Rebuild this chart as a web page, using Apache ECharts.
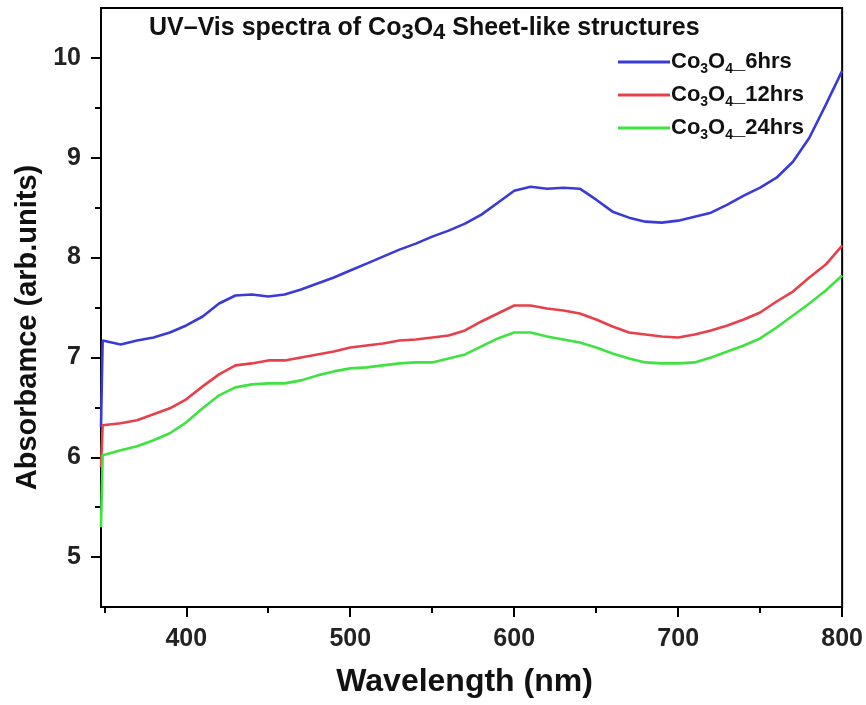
<!DOCTYPE html>
<html>
<head>
<meta charset="utf-8">
<script src="https://cdn.jsdelivr.net/npm/echarts@6/dist/echarts.min.js"></script>
<style>
  html, body { margin: 0; padding: 0; background: #fff; }
  #chart { width: 866px; height: 705px; }
</style>
</head>
<body>
<div id="chart"></div>
<script>
// Wavelength grid (nm) and absorbance of the three Co3O4 samples
const wavelength = [348, 349, 360, 370, 380, 390, 400, 410, 420, 430, 440, 450, 460, 470, 480, 490,
  500, 510, 520, 530, 540, 550, 560, 570, 580, 590, 600, 610, 620, 630, 640, 650, 660, 670, 680, 690,
  700, 710, 720, 730, 740, 750, 760, 770, 780, 790, 800];

const abs6hrs = [6.3, 7.17, 7.13, 7.17, 7.20, 7.25, 7.32, 7.41, 7.54, 7.62, 7.63, 7.61, 7.63, 7.68, 7.74, 7.80,
  7.87, 7.94, 8.01, 8.08, 8.14, 8.21, 8.27, 8.34, 8.43, 8.55, 8.67, 8.71, 8.69, 8.70, 8.69, 8.58, 8.46, 8.40, 8.36, 8.35,
  8.37, 8.41, 8.45, 8.53, 8.62, 8.70, 8.80, 8.96, 9.20, 9.53, 9.87];

const abs12hrs = [5.9, 6.32, 6.34, 6.37, 6.43, 6.49, 6.58, 6.71, 6.83, 6.92, 6.94, 6.97, 6.97, 7.00, 7.03, 7.06,
  7.10, 7.12, 7.14, 7.17, 7.18, 7.20, 7.22, 7.27, 7.36, 7.44, 7.52, 7.52, 7.49, 7.47, 7.44, 7.38, 7.31, 7.25, 7.23, 7.21,
  7.20, 7.23, 7.27, 7.32, 7.38, 7.45, 7.56, 7.66, 7.80, 7.93, 8.12];

const abs24hrs = [5.3, 6.02, 6.07, 6.11, 6.17, 6.24, 6.35, 6.49, 6.62, 6.70, 6.73, 6.74, 6.74, 6.77, 6.82, 6.86,
  6.89, 6.90, 6.92, 6.94, 6.95, 6.95, 6.99, 7.03, 7.11, 7.19, 7.25, 7.25, 7.21, 7.18, 7.15, 7.10, 7.04, 6.99, 6.95, 6.94,
  6.94, 6.95, 7.00, 7.06, 7.12, 7.19, 7.30, 7.42, 7.54, 7.67, 7.82];

const seriesNames = ['Co3O4_6hrs', 'Co3O4_12hrs', 'Co3O4_24hrs'];
const seriesColors = ['#3a3ad8', '#e8404a', '#3fe33f'];

// Axis ticks
const xMajorTicks = [400, 500, 600, 700, 800];
const xMinorTicks = [350, 450, 550, 650, 750];
const yMajorTicks = [5, 6, 7, 8, 9, 10];
const yMinorTicks = [5.5, 6.5, 7.5, 8.5, 9.5];

const FONT = "Arial, 'Liberation Sans', sans-serif";
const seriesData = [abs6hrs, abs12hrs, abs24hrs];

const chart = echarts.init(document.getElementById('chart'), null, { renderer: 'canvas' });

const axisBase = {
  axisLine: { show: true, onZero: false, lineStyle: { color: '#000', width: 2 } },
  splitLine: { show: false }
};

chart.setOption({
  animation: false,
  backgroundColor: '#fff',
  title: {
    left: 144,
    top: 7,
    text: 'UV\u2013Vis spectra of Co{s|3}O{s|4} Sheet-like structures',
    textStyle: {
      fontFamily: FONT, fontSize: 25, fontWeight: 'bold', color: '#111',
      rich: {
        s: { fontFamily: FONT, fontSize: 22, fontWeight: 'bold', color: '#111', padding: [10, 0, 0, 0] }
      }
    }
  },
  legend: {
    orient: 'vertical',
    left: 613,
    top: 46,
    itemWidth: 52,
    itemHeight: 3,
    itemGap: 8,
    icon: 'rect',
    data: seriesNames,
    formatter: name => name.replace('Co3O4', 'Co{s|3}O{s|4}'),
    textStyle: {
      fontFamily: FONT, fontSize: 22, fontWeight: 'bold', color: '#111', padding: [0, 0, 0, -4],
      rich: {
        s: { fontFamily: FONT, fontSize: 14, fontWeight: 'bold', color: '#111', padding: [14, 0, 0, 0] }
      }
    }
  },
  grid: {
    left: 101, right: 23, top: 8, bottom: 98,
    show: true, borderColor: '#000', borderWidth: 2, backgroundColor: 'transparent'
  },
  xAxis: [
    Object.assign({}, axisBase, {
      type: 'value', min: 348, max: 800, position: 'bottom',
      name: 'Wavelength (nm)', nameLocation: 'middle', nameGap: 59,
      nameTextStyle: { fontFamily: FONT, fontSize: 32, fontWeight: 'bold', color: '#111', padding: [0, 14, 0, 0] },
      axisTick: { show: true, inside: false, length: 10, lineStyle: { color: '#000', width: 2 }, customValues: xMajorTicks },
      axisLabel: { show: true, margin: 20, fontFamily: FONT, fontSize: 25, fontWeight: 'bold', color: '#222', customValues: xMajorTicks }
    }),
    Object.assign({}, axisBase, {
      type: 'value', min: 348, max: 800, position: 'bottom', gridIndex: 0,
      axisLine: { show: false },
      axisTick: { show: true, inside: false, length: 6, lineStyle: { color: '#000', width: 2 }, customValues: xMinorTicks },
      axisLabel: { show: false }
    })
  ],
  yAxis: [
    Object.assign({}, axisBase, {
      type: 'value', min: 4.5, max: 10.5, position: 'left',
      name: 'Absorbamce (arb.units)', nameLocation: 'middle', nameGap: 59,
      nameTextStyle: { fontFamily: FONT, fontSize: 29, fontWeight: 'bold', color: '#111', padding: [0, 40, 0, 0] },
      axisTick: { show: true, inside: false, length: 10, lineStyle: { color: '#000', width: 2 }, customValues: yMajorTicks },
      axisLabel: { show: true, margin: 20, fontFamily: FONT, fontSize: 25, fontWeight: 'bold', color: '#222', customValues: yMajorTicks }
    }),
    Object.assign({}, axisBase, {
      type: 'value', min: 4.5, max: 10.5, position: 'left', gridIndex: 0,
      axisLine: { show: false },
      axisTick: { show: true, inside: false, length: 6, lineStyle: { color: '#000', width: 2 }, customValues: yMinorTicks },
      axisLabel: { show: false }
    })
  ],
  series: seriesNames.map((name, k) => ({
    name: name,
    type: 'line',
    xAxisIndex: 0,
    yAxisIndex: 0,
    showSymbol: false,
    symbol: 'none',
    color: seriesColors[k],
    lineStyle: { color: seriesColors[k], width: 2.6 },
    data: wavelength.map((w, i) => [w, seriesData[k][i]])
  }))
});
</script>
</body>
</html>
